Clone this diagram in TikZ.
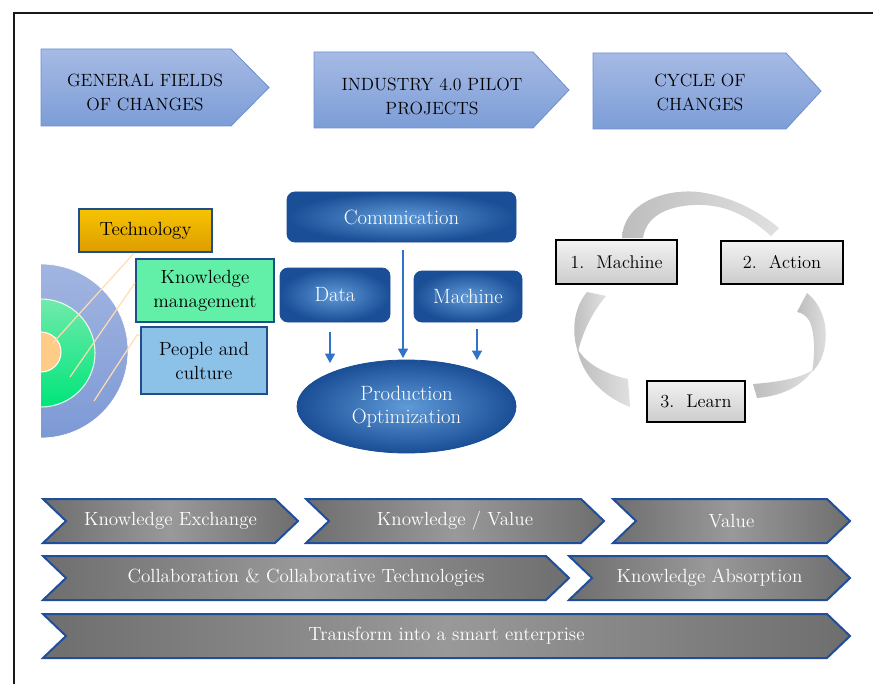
\documentclass[tikz,border=0pt]{standalone}
\usepackage{fontspec}
\usetikzlibrary{shapes.geometric,arrows.meta}
\definecolor{hdrTop}{HTML}{A6BAE4}
\definecolor{hdrBot}{HTML}{7C9DD7}
\definecolor{hdrLine}{HTML}{6F8FCF}
\definecolor{techTop}{HTML}{F6C400}
\definecolor{techBot}{HTML}{DE9C00}
\definecolor{boxLine}{HTML}{1F4E8C}
\definecolor{kmFill}{HTML}{62F0A8}
\definecolor{pcFill}{HTML}{8CC1E8}
\definecolor{outTop}{HTML}{A2B5E1}
\definecolor{outBot}{HTML}{7D99D5}
\definecolor{midTop}{HTML}{70EAAC}
\definecolor{midBot}{HTML}{00E57A}
\definecolor{innFill}{HTML}{FFCC88}
\definecolor{leader}{HTML}{FFDDB0}
\definecolor{dbOuter}{HTML}{1A4E96}
\definecolor{dbInner}{HTML}{5F9AD8}
\definecolor{arrBlue}{HTML}{2F74C8}
\definecolor{chevLine}{HTML}{1F4E9A}
\definecolor{chevDark}{HTML}{6E6E6E}
\definecolor{chevLight}{HTML}{999999}
\definecolor{ribDark}{HTML}{BDBDBD}
\definecolor{ribLight}{HTML}{E0E0E0}
\tikzset{
  sz/.style 2 args={minimum width=#1*0.75pt,minimum height=#2*0.75pt,inner sep=0pt},
  hdr/.style={top color=hdrTop,bottom color=hdrBot,draw=hdrLine,line width=0.6pt},
  hdrtext/.style={align=center,font=\fontsize{13.3}{18}\selectfont,text=black},
  fieldbox/.style={draw=boxLine,line width=1.5pt,align=center,font=\fontsize{14.3}{18}\selectfont},
  darkbox/.style={rounded corners=6pt,inner color=dbInner,outer color=dbOuter,draw=dbOuter,line width=0.6pt,text=white,font=\fontsize{15.5}{17.3}\selectfont,align=center},
  barr/.style={draw=arrBlue,line width=0.9pt,-{Triangle[width=7.5pt,length=7pt]},arrBlue},
  cycbox/.style={top color=white!95!black,bottom color=black!20,draw=black,line width=1.5pt,font=\fontsize{13.8}{18}\selectfont},
  ribbon/.style={left color=ribDark,right color=ribLight},
  chev/.style={left color=chevDark,right color=chevDark,middle color=chevLight,draw=chevLine,line width=1.5pt},
  chevtext/.style={text=white,font=\fontsize{14.3}{16}\selectfont},
  lead/.style={draw=leader,line width=0.9pt}
}
\begin{document}
\begin{tikzpicture}[x=0.75pt,y=-0.75pt]
\useasboundingbox (0,0) rectangle (873,684);
\fill[white] (0,0) rectangle (873,684);
\begin{scope}
\clip (0,0) rectangle (873,684);
\draw[line width=1.6pt,black!90] (14,13) rectangle (900,710);
\end{scope}

% header arrows
\path[hdr] (41,49) -- (231,49) -- (269,87.5) -- (231,126) -- (41,126) -- cycle;
\path[hdr] (314,52) -- (533,52) -- (569,90) -- (533,128) -- (314,128) -- cycle;
\path[hdr] (593,53) -- (786,53) -- (821,91) -- (786,129) -- (593,129) -- cycle;
\node[hdrtext] (h1) at (145,92) {GENERAL FIELDS\\OF CHANGES};
\node[hdrtext] (h2) at (432,96) {INDUSTRY 4.0 PILOT\\PROJECTS};
\node[hdrtext] (h3) at (700,92) {CYCLE OF\\CHANGES};

% concentric circles
\begin{scope}
\clip (41,200) rectangle (200,460);
\path[top color=outTop,bottom color=outBot,draw=white,line width=0.5pt] (41,351) circle (87);
\path[top color=midTop,bottom color=midBot,draw=white!90!green,line width=0.8pt] (41,353) circle (54);
\path[fill=innFill,draw=white,line width=0.8pt] (41,352) circle (20);
\end{scope}
\coordinate (l1s) at (52,344);
\coordinate (l2s) at (70,377);
\coordinate (l3s) at (94,401);
\coordinate (l3k) at (137,335);

\node[fieldbox,sz={133}{43},top color=techTop,bottom color=techBot] (tech) at (145.5,230.5) {Technology};
\node[fieldbox,sz={138}{63},fill=kmFill] (km) at (205,290.5) {Knowledge\\management};
\node[fieldbox,sz={126}{67},fill=pcFill] (pc) at (204,360.5) {People and\\culture};
\draw[lead] (l1s) -- ([xshift=-8.5pt]tech.south);
\draw[lead] (l2s) -- (km.west |- 0,283);
\draw[lead] (l3s) -- (l3k) -- (pc.west |- l3k);

% middle pilot projects
\node[darkbox,sz={229}{50}] (comm) at (401.5,217) {Comunication};
\node[darkbox,sz={110}{54}] (data) at (335,295) {Data};
\node[darkbox,sz={108}{51}] (mach) at (468,296.5) {Machine};
\node[ellipse,inner color=dbInner,outer color=dbOuter,draw=dbOuter,line width=0.6pt,sz={219}{93},text=white,align=center,font=\fontsize{15.5}{17.3}\selectfont] (prod) at (406.5,406.5) {Production\\Optimization};
\coordinate (a1s) at (403,250);
\coordinate (a1e) at (403,358);
\coordinate (a2s) at (330,332);
\coordinate (a2e) at (330,363);
\coordinate (a3s) at (477,329);
\coordinate (a3e) at (477,360);
\draw[barr] (a1s) -- (a1e);
\draw[barr] (a2s) -- (a2e);
\draw[barr] (a3s) -- (a3e);

% cycle of changes
\path[ribbon] (622,238) .. controls (624,198) and (675,187) .. (705,193)
  .. controls (738,199) and (762,214) .. (779,228) -- (771,236)
  .. controls (752,219) and (730,206) .. (703,205)
  .. controls (670,204) and (646,215) .. (643,238) -- cycle;
\path[ribbon] (587,292) -- (606,296) .. controls (594,310) and (583,330) .. (578,352)
  .. controls (572,335) and (572,310) .. (587,292) -- cycle;
\path[ribbon] (577,348) .. controls (582,375) and (602,396) .. (630,407) -- (628,379)
  .. controls (605,374) and (586,364) .. (577,348) -- cycle;
\path[ribbon] (807,293) .. controls (822,305) and (828,325) .. (825,345)
  .. controls (823,358) and (818,366) .. (812,372)
  .. controls (815,355) and (815,335) .. (810,322)
  .. controls (806,315) and (802,313) .. (797,312) -- cycle;
\path[ribbon] (813,370) .. controls (800,388) and (780,396) .. (757,398) -- (753,384)
  .. controls (780,382) and (800,378) .. (813,370) -- cycle;
\node[cycbox,sz={121}{44}] (c1) at (616.5,262) {1.\ \ Machine};
\node[cycbox,sz={122}{43}] (c2) at (782,262.5) {2.\ \ Action};
\node[cycbox,sz={98}{41}] (c3) at (696,401.5) {3.\ \ Learn};

% bottom chevrons
\path[chev] (43,499) -- (275,499) -- (298,521) -- (275,543) -- (43,543) -- (66,521) -- cycle;
\path[chev] (306,499) -- (581,499) -- (604,521) -- (581,543) -- (306,543) -- (329,521) -- cycle;
\path[chev] (613,499) -- (827,499) -- (850,521) -- (827,543) -- (613,543) -- (636,521) -- cycle;
\path[chev] (43,556) -- (546,556) -- (569,578) -- (546,600) -- (43,600) -- (66,578) -- cycle;
\path[chev] (569,556) -- (827,556) -- (850,578) -- (827,600) -- (569,600) -- (592,578) -- cycle;
\path[chev] (43,614) -- (827,614) -- (850,636) -- (827,658) -- (43,658) -- (66,636) -- cycle;
\node[chevtext] (b1) at (170.5,521) {Knowledge Exchange};
\node[chevtext] (b2) at (455,521) {Knowledge / Value};
\node[chevtext] (b3) at (731.5,521) {Value};
\node[chevtext] (b4) at (306,578) {Collaboration \& Collaborative Technologies};
\node[chevtext] (b5) at (709.5,578) {Knowledge Absorption};
\node[chevtext] (b6) at (446.5,636) {Transform into a smart enterprise};
\end{tikzpicture}
\end{document}
